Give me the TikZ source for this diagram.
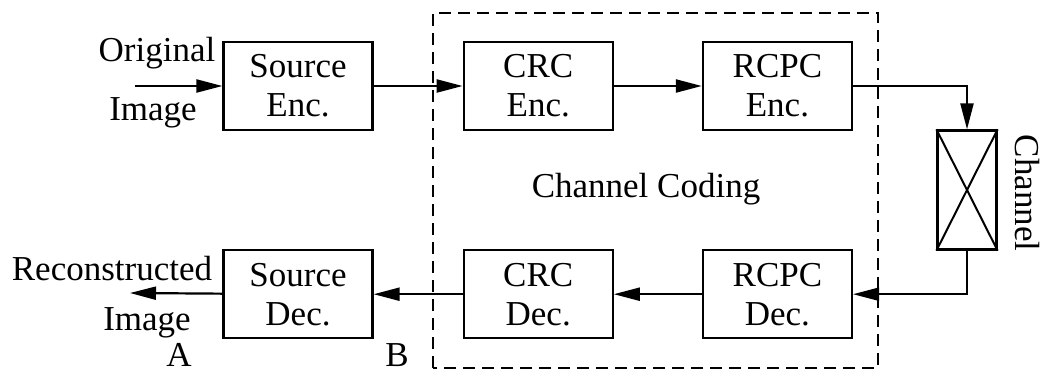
\documentclass[tikz,border=0pt]{standalone}
\usepackage{fontspec}
\setmainfont{Liberation Serif}
\usetikzlibrary{positioning, arrows.meta}

\begin{document}
\begin{tikzpicture}[x=1pt, y=1pt,
    every node/.style={font=\fontsize{35}{39}\selectfont},
    blk/.style={draw, line width=2.2pt, minimum width=149pt, minimum height=88pt, inner sep=0pt, align=center},
    lbl/.style={anchor=base, inner sep=0pt},
    arr/.style={line width=2.2pt, -{Triangle[length=26pt, width=13pt]}}]
            \useasboundingbox (0,0) rectangle (1043,373);

            \node [blk] (srcenc) at (298,287) {Source\\Enc.};
            \node [blk, right=89pt of srcenc] (crcenc) {CRC\\Enc.};
            \node [blk, right=88pt of crcenc] (rcpcenc) {RCPC\\Enc.};
            \node [blk, below=118pt of srcenc] (srcdec) {Source\\Dec.};
            \node [blk, below=118pt of crcenc] (crcdec) {CRC\\Dec.};
            \node [blk, below=118pt of rcpcenc] (rcpcdec) {RCPC\\Dec.};
            \node [draw, line width=2.2pt, minimum width=59pt, minimum height=119pt, inner sep=0pt] (chan) at (967,183) {};
            \draw [line width=2pt] (chan.north west) -- (chan.south east);
            \draw [line width=2pt] (chan.south west) -- (chan.north east);

            % channel coding frame
            \draw [line width=2pt, dash pattern=on 12pt off 7pt] (433,5) rectangle (878,360);
            \node [lbl] (coding) at (646,176) {Channel Coding};
            \node [rotate=-90] (chanlabel) at (1027,180) {Channel};

            % in and out
            \coordinate (input) at (135,287);
            \coordinate (output) at (130,80);
            \node [lbl] (orig) at (157,311) {Original};
            \node [lbl] (origimg) at (153,253) {Image};
            \node [lbl] (recon) at (112,93) {Reconstructed};
            \node [lbl] (reconimg) at (147,43) {Image};
            \node [lbl] (pointa) at (179,7) {A};
            \node [lbl] (pointb) at (397,7) {B};

            \draw [arr] (input) -- (srcenc);
            \draw [arr] (srcenc) -- (crcenc);
            \draw [arr] (crcenc) -- (rcpcenc);
            \draw [arr] (rcpcenc) -| (chan);
            \draw [arr] (chan) |- (rcpcdec);
            \draw [arr] (rcpcdec) -- (crcdec);
            \draw [arr] (crcdec) -- (srcdec);
            \draw [arr] (srcdec) -- (output);
\end{tikzpicture}
\end{document}
